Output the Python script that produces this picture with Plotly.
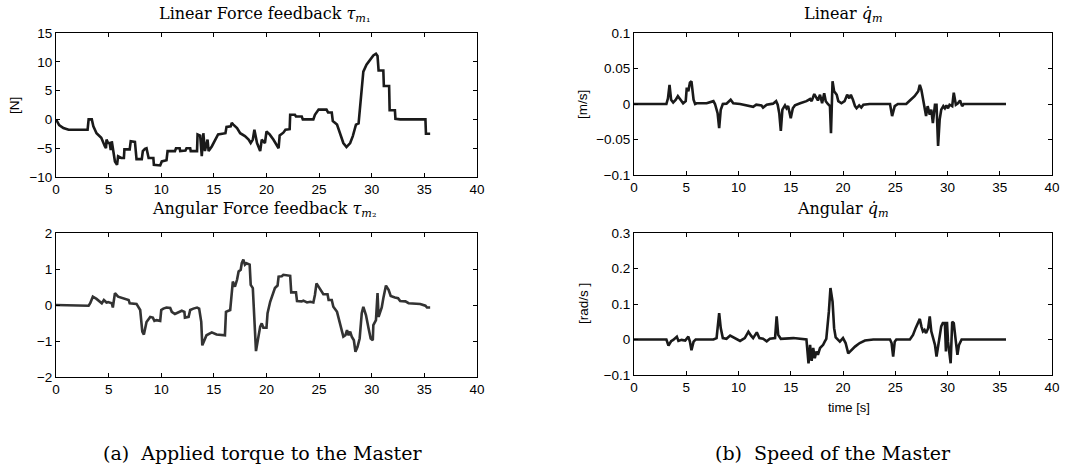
import plotly.graph_objects as go

# ---------------- data ----------------
t_lin_force = [0, 0.3, 0.7, 1.2, 3.0, 3.1, 3.4, 3.55, 3.85, 4.3, 4.65, 4.75, 4.8, 4.95, 5.1, 5.2, 5.3,
               5.45, 5.6, 5.8, 5.9, 6.2, 6.45, 6.5, 7.0, 7.1, 7.5, 7.65, 8.15, 8.25, 8.45, 8.6, 8.8,
               9.25, 9.3, 9.9, 10.05, 10.5, 10.6, 11.3, 11.4, 11.75, 11.8, 12.3, 12.4, 12.75, 12.8,
               13.4, 13.45, 13.7, 13.85, 14.0, 14.15, 14.4, 14.5, 14.8, 15.1, 15.4, 16.1, 16.2, 16.6,
               16.7, 16.85, 17.2, 17.5, 17.95, 18.3, 18.5, 18.7, 18.85, 19.1, 19.4, 19.55, 19.85, 20.0,
               20.3, 20.65, 21.0, 21.15, 21.25, 21.6, 21.8, 22.2, 22.25, 22.7, 22.8, 23.35, 23.45,
               24.45, 24.6, 24.95, 25.7, 25.85, 26.2, 26.3, 26.7, 27.0, 27.3, 27.6, 27.95, 28.2, 28.4,
               28.5, 28.75, 28.9, 29.05, 29.2, 29.5, 29.85, 30.15, 30.4, 30.55, 30.65, 31.1, 31.15,
               31.65, 31.7, 32.2, 32.25, 32.7, 35.1, 35.15, 35.55]
lin_force = [0, -1.0, -1.5, -1.8, -1.8, 0.0, 0.0, -1.2, -2.4, -3.2, -4.7, -5.0, -3.5, -4.1, -4.1, -5.3, -3.8,
             -5.8, -7.3, -7.9, -6.4, -6.7, -6.7, -5.2, -5.2, -3.8, -3.9, -6.9, -6.9, -5.5, -5.1, -5.0, -6.7,
             -6.7, -7.9, -8.0, -7.3, -7.1, -5.5, -5.5, -5.0, -5.0, -5.5, -5.4, -5.0, -5.0, -5.5,
             -5.5, -2.6, -2.8, -6.4, -2.4, -5.5, -3.5, -5.5, -4.7, -3.5, -2.6, -2.4, -1.3, -1.2,
             -0.6, -0.9, -1.5, -2.4, -2.9, -3.5, -4.1, -3.5, -1.8, -4.1, -5.5, -3.5, -4.1, -2.1,
             -2.6, -3.5, -4.7, -5.0, -2.8, -2.3, -1.8, -1.7, 0.8, 0.8, 0.5, 0.5, 0.0,
             0.0, 0.8, 1.7, 1.7, 1.2, 1.2, -0.3, -0.9, -2.4, -4.1, -4.8, -4.1, -2.9, -1.8,
             -0.9, -0.7, 2.8, 5.7, 8.3, 9.5, 10.4, 11.1, 11.4, 11.0, 8.5, 8.5, 5.8,
             5.8, 1.6, 1.6, 0.1, 0.0, 0.0, -2.5, -2.5]

t_ang_force = [0, 3.1, 3.25, 3.5, 3.85, 4.2, 4.35, 4.55, 4.8, 4.95, 5.3, 5.4, 5.6, 5.9, 6.4, 6.9, 7.0, 7.65,
               8.0, 8.2, 8.35, 8.6, 8.95, 9.2, 9.35, 9.55, 9.9, 10.0, 10.2, 10.5, 10.85, 11.0, 11.3,
               11.65, 11.95, 12.2, 12.25, 12.6, 12.75, 13.05, 13.4, 13.6, 13.8, 13.9, 14.05, 14.3,
               14.8, 15.25, 16.05, 16.15, 16.55, 16.8, 17.0, 17.2, 17.35, 17.55, 17.65, 17.8, 17.95,
               18.1, 18.4, 18.5, 18.7, 18.9, 19.0, 19.15, 19.4, 19.55, 19.7, 20.0, 20.1, 20.35, 20.6,
               20.8, 21.05, 21.15, 21.45, 21.6, 22.25, 22.35, 22.8, 22.9, 23.35, 23.5, 23.85, 24.15,
               24.45, 24.6, 24.75, 25.1, 25.4, 25.8, 25.9, 26.2, 26.35, 26.7, 26.85, 27.0, 27.3, 27.5,
               27.65, 27.8, 27.95, 28.1, 28.3, 28.45, 28.65, 28.85, 29.05, 29.2, 29.45, 29.7, 29.9,
               30.1, 30.15, 30.4, 30.55, 30.65, 30.85, 30.95, 31.1, 31.35, 31.6, 31.8, 32.2, 32.5,
               32.7, 33.2, 33.5, 34.6, 35.1, 35.25, 35.55]
ang_force = [0.0, -0.02, 0.05, 0.23, 0.17, 0.10, 0.05, 0.14, 0.07, 0.08, 0.05, -0.07, 0.33, 0.23, 0.19, 0.14, 0.05, 0.03,
             -0.14, -0.74, -0.82, -0.47, -0.33, -0.35, -0.44, -0.42, -0.44, -0.14, -0.10, -0.07, -0.08, -0.19, -0.25,
             -0.20, -0.16, -0.19, -0.35, -0.33, -0.14, -0.10, -0.07, -0.10, -0.47, -1.12, -1.00, -0.84,
             -0.76, -0.82, -0.84, -0.19, -0.14, 0.65, 0.51, 0.70, 0.93, 0.98, 1.16, 1.26, 1.12,
             1.16, 1.12, 0.56, 0.47, -0.84, -1.28, -1.02, -0.60, -0.51, -0.63, -0.63, -0.23, 0.09, 0.33,
             0.47, 0.54, 0.79, 0.80, 0.84, 0.81, 0.35, 0.35, 0.11, 0.10, 0.12, 0.07, 0.09,
             0.07, 0.28, 0.60, 0.42, 0.30, 0.30, 0.14, 0.14, -0.05, -0.19, -0.37, -0.51, -0.88, -0.84,
             -0.70, -0.84, -0.74, -0.88, -0.98, -1.30, -1.16, -0.93, -0.23, -0.05, -0.28, -0.65, -0.93,
             -0.98, -0.56, -0.42, 0.33, -0.33, -0.19, -0.07, 0.19, 0.54, 0.42, 0.25, 0.21, 0.19,
             0.11, 0.10, 0.05, 0.03, -0.02, -0.07, -0.07]

t_lin_speed = [0, 3.1, 3.25, 3.4, 3.55, 3.75, 4.0, 4.2, 4.4, 4.7, 4.95, 5.05, 5.2, 5.35, 5.5, 5.7, 5.85,
               6.0, 6.95, 7.6, 7.75, 8.0, 8.15, 8.3, 8.5, 8.85, 9.25, 9.5, 10.15, 10.8, 11.4, 11.7,
               12.2, 12.35, 12.7, 13.3, 13.6, 13.75, 13.9, 14.05, 14.2, 14.45, 14.6, 14.75, 15.0,
               15.2, 15.4, 15.9, 16.2, 16.5, 16.85, 17.0, 17.25, 17.45, 17.6, 17.8, 18.0, 18.2,
               18.35, 18.55, 18.75, 18.85, 19.0, 19.15, 19.4, 19.55, 19.85, 20.15, 20.4, 20.6,
               20.75, 20.95, 21.15, 21.3, 21.55, 21.75, 21.95, 22.55, 24.5, 24.7, 24.95, 25.25,
               26.05, 26.4, 26.85, 27.2, 27.35, 27.5, 27.65, 27.8, 27.95, 28.1, 28.3, 28.45, 28.6,
               28.8, 28.95, 29.1, 29.25, 29.4, 29.6, 29.75, 29.9, 30.05, 30.2, 30.45, 30.6, 30.8,
               31.0, 31.2, 31.4, 31.55, 35.6]
lin_speed = [0.0, 0.0, 0.008, 0.027, 0.006, 0.002, 0.006, 0.011, 0.007, 0.001, 0.004, 0.023, 0.018, 0.030, 0.032, 0.006, 0.0,
             0.001, 0.001, 0.004, 0.0, -0.013, -0.034, -0.008, 0.0, 0.0005, 0.006, 0.001, 0.0, -0.002, -0.004, -0.001,
             -0.002, -0.005, -0.001, 0.0005, 0.004, -0.001, -0.013, -0.038, -0.008, -0.002, -0.006, -0.003, -0.020,
             -0.006, -0.002, 0.001, 0.002, 0.004, 0.007, 0.004, 0.014, 0.008, 0.005, 0.013, 0.001, 0.015,
             0.004, 0.0, -0.003, -0.041, 0.032, 0.018, 0.013, 0.004, 0.001, 0.004, 0.013, 0.008,
             0.013, 0.006, -0.003, -0.006, -0.002, -0.005, -0.001, 0.0, 0.0, -0.017, -0.003, 0.0,
             0.0, 0.005, 0.011, 0.018, 0.027, 0.020, 0.006, -0.003, -0.017, -0.003, -0.015, -0.008, -0.027,
             -0.001, -0.001, -0.059, -0.022, -0.008, -0.003, -0.006, -0.002, -0.006, -0.001, -0.003, 0.016, -0.001,
             0.001, 0.005, -0.003, 0.0, 0.0]

t_ang_speed = [0, 3.1, 3.3, 3.55, 3.75, 4.1, 4.25, 4.55, 4.9, 5.2, 5.35, 5.5, 5.7, 5.9, 7.6, 7.9, 8.15, 8.3,
               8.5, 8.85, 9.2, 9.45, 9.8, 10.15, 10.6, 10.95, 11.2, 11.4, 11.75, 12.0, 12.35, 12.7, 13.0,
               13.5, 13.65, 13.8, 14.05, 15.25, 16.5, 16.7, 16.85, 17.0, 17.15, 17.3, 17.45, 17.6, 17.8,
               18.1, 18.25, 18.4, 18.65, 18.8, 19.0, 19.15, 19.3, 19.7, 20.0, 20.25, 20.5, 20.8, 21.15,
               21.6, 22.1, 22.9, 24.5, 24.65, 24.8, 24.95, 25.1, 26.4, 26.7, 26.95, 27.2, 27.35, 27.5,
               27.65, 27.8, 27.95, 28.15, 28.3, 28.45, 28.6, 28.8, 28.95, 29.1, 29.25, 29.4, 29.55,
               29.75, 29.85, 29.95, 30.05, 30.3, 30.45, 30.6, 30.8, 30.95, 31.1, 31.35, 35.6]
ang_speed = [0.0, 0.0, -0.017, -0.005, -0.001, 0.008, -0.004, -0.001, -0.003, 0.008, -0.006, -0.030, -0.006, 0.0, 0.0, 0.004, 0.074, 0.032,
             0.004, 0.002, 0.011, 0.007, 0.002, -0.004, 0.004, 0.022, 0.011, 0.004, 0.020, 0.004, 0.002, -0.005, 0.002,
             0.004, 0.065, 0.013, 0.002, 0.004, 0.0, -0.067, -0.015, -0.060, -0.024, -0.053, -0.034, -0.043, -0.024,
             -0.015, -0.006, 0.002, 0.079, 0.145, 0.107, 0.032, 0.006, -0.006, 0.004, -0.010, -0.039, -0.029, -0.020,
             -0.010, -0.003, 0.0, 0.0, -0.010, -0.048, -0.006, 0.0, 0.0, 0.013, 0.032, 0.046, 0.058, 0.037,
             0.023, 0.027, 0.018, 0.032, 0.065, 0.023, 0.004, -0.015, -0.048, -0.015, 0.013, 0.037, 0.046,
             0.046, -0.034, 0.050, -0.006, -0.067, 0.050, 0.046, -0.006, -0.043, -0.015, 0.0, 0.0]

x_ticks = [0, 5, 10, 15, 20, 25, 30, 35, 40]

# ---------------- figure ----------------
W, H = 1081, 468


def px_x(a, b):
    return [a / W, b / W]


def px_y(top, bottom):
    return [1 - bottom / H, 1 - top / H]


fig = go.Figure()

panels = [
    dict(t=t_lin_force, y=lin_force, color="#1a1a1a", xd=px_x(56, 477), yd=px_y(33, 177),
         yr=[-10, 15], yt=[-10, -5, 0, 5, 10, 15], ytxt=["\u221210", "\u22125", "0", "5", "10", "15"]),
    dict(t=t_ang_force, y=ang_force, color="#333333", xd=px_x(56, 477), yd=px_y(233, 377),
         yr=[-2, 2], yt=[-2, -1, 0, 1, 2], ytxt=["\u22122", "\u22121", "0", "1", "2"]),
    dict(t=t_lin_speed, y=lin_speed, color="#1a1a1a", xd=px_x(634, 1052), yd=px_y(33, 175),
         yr=[-0.1, 0.1], yt=[-0.1, -0.05, 0, 0.05, 0.1], ytxt=["\u22120.1", "\u22120.05", "0", "0.05", "0.1"]),
    dict(t=t_ang_speed, y=ang_speed, color="#1a1a1a", xd=px_x(634, 1052), yd=px_y(233, 375),
         yr=[-0.1, 0.3], yt=[-0.1, 0, 0.1, 0.2, 0.3], ytxt=["\u22120.1", "0", "0.1", "0.2", "0.3"]),
]

tick_font = dict(family="Liberation Sans, Arial, sans-serif", size=13.5, color="#000")
for i, p in enumerate(panels, start=1):
    sx = "" if i == 1 else str(i)
    fig.add_trace(go.Scatter(x=p["t"], y=p["y"], mode="lines",
                             line=dict(color=p["color"], width=2.6),
                             xaxis="x" + sx, yaxis="y" + sx, showlegend=False, hoverinfo="skip"))
    fig.layout["xaxis" + sx] = dict(domain=p["xd"], anchor="y" + sx, range=[0, 40],
                                    tickvals=x_ticks, ticks="inside", ticklen=4, tickcolor="#000",
                                    showline=True, linecolor="#000", linewidth=1, mirror="ticks",
                                    showgrid=False, zeroline=False, tickfont=tick_font,
                                    automargin=False, fixedrange=True)
    fig.layout["yaxis" + sx] = dict(domain=p["yd"], anchor="x" + sx, range=p["yr"],
                                    tickvals=p["yt"], ticktext=p["ytxt"], ticks="inside", ticklen=4,
                                    tickcolor="#000", showline=True, linecolor="#000", linewidth=1,
                                    mirror="ticks", showgrid=False, zeroline=False, tickfont=tick_font,
                                    automargin=False, fixedrange=True)

serif = "DejaVu Serif, Liberation Serif, serif"
ann = []


def text(x, y, s, size=13, fam=serif, angle=0):
    ann.append(dict(x=x / W, y=1 - y / H, xref="paper", yref="paper", text=s,
                    showarrow=False, font=dict(family=fam, size=size, color="#000"), textangle=angle,
                    xanchor="center", yanchor="middle"))


text(264, 15, "Linear Force feedback <i>τ</i><sub><i>m</i>\u2081</sub>", size=16)
text(264, 210, "Angular Force feedback <i>τ</i><sub><i>m</i>\u2082</sub>", size=16)
text(843, 15, "Linear <i>q̇</i><sub><i>m</i></sub>", size=16)
text(843, 210, "Angular <i>q̇</i><sub><i>m</i></sub>", size=16)
sans = "Liberation Sans, Arial, sans-serif"
text(15, 105, "[N]", size=13.5, fam=sans, angle=-90)
text(583, 105, "[m/s]", size=13.5, fam=sans, angle=-90)
text(583, 304, "[rad/s ]", size=13.5, fam=sans, angle=-90)
text(849, 407, "time [s]", size=13, fam=sans)
text(262, 453, "(a)  Applied torque to the Master", size=19)
text(833, 453, "(b)  Speed of the Master", size=19)

fig.update_layout(width=W, height=H, margin=dict(l=0, r=0, t=0, b=0, autoexpand=False),
                  template="none", hovermode=False,
                  paper_bgcolor="white", plot_bgcolor="white", annotations=ann)

fig.write_html("out.html", config={"displayModeBar": False},
               post_script="document.body.style.margin='0px';document.body.style.overflow='hidden';")
